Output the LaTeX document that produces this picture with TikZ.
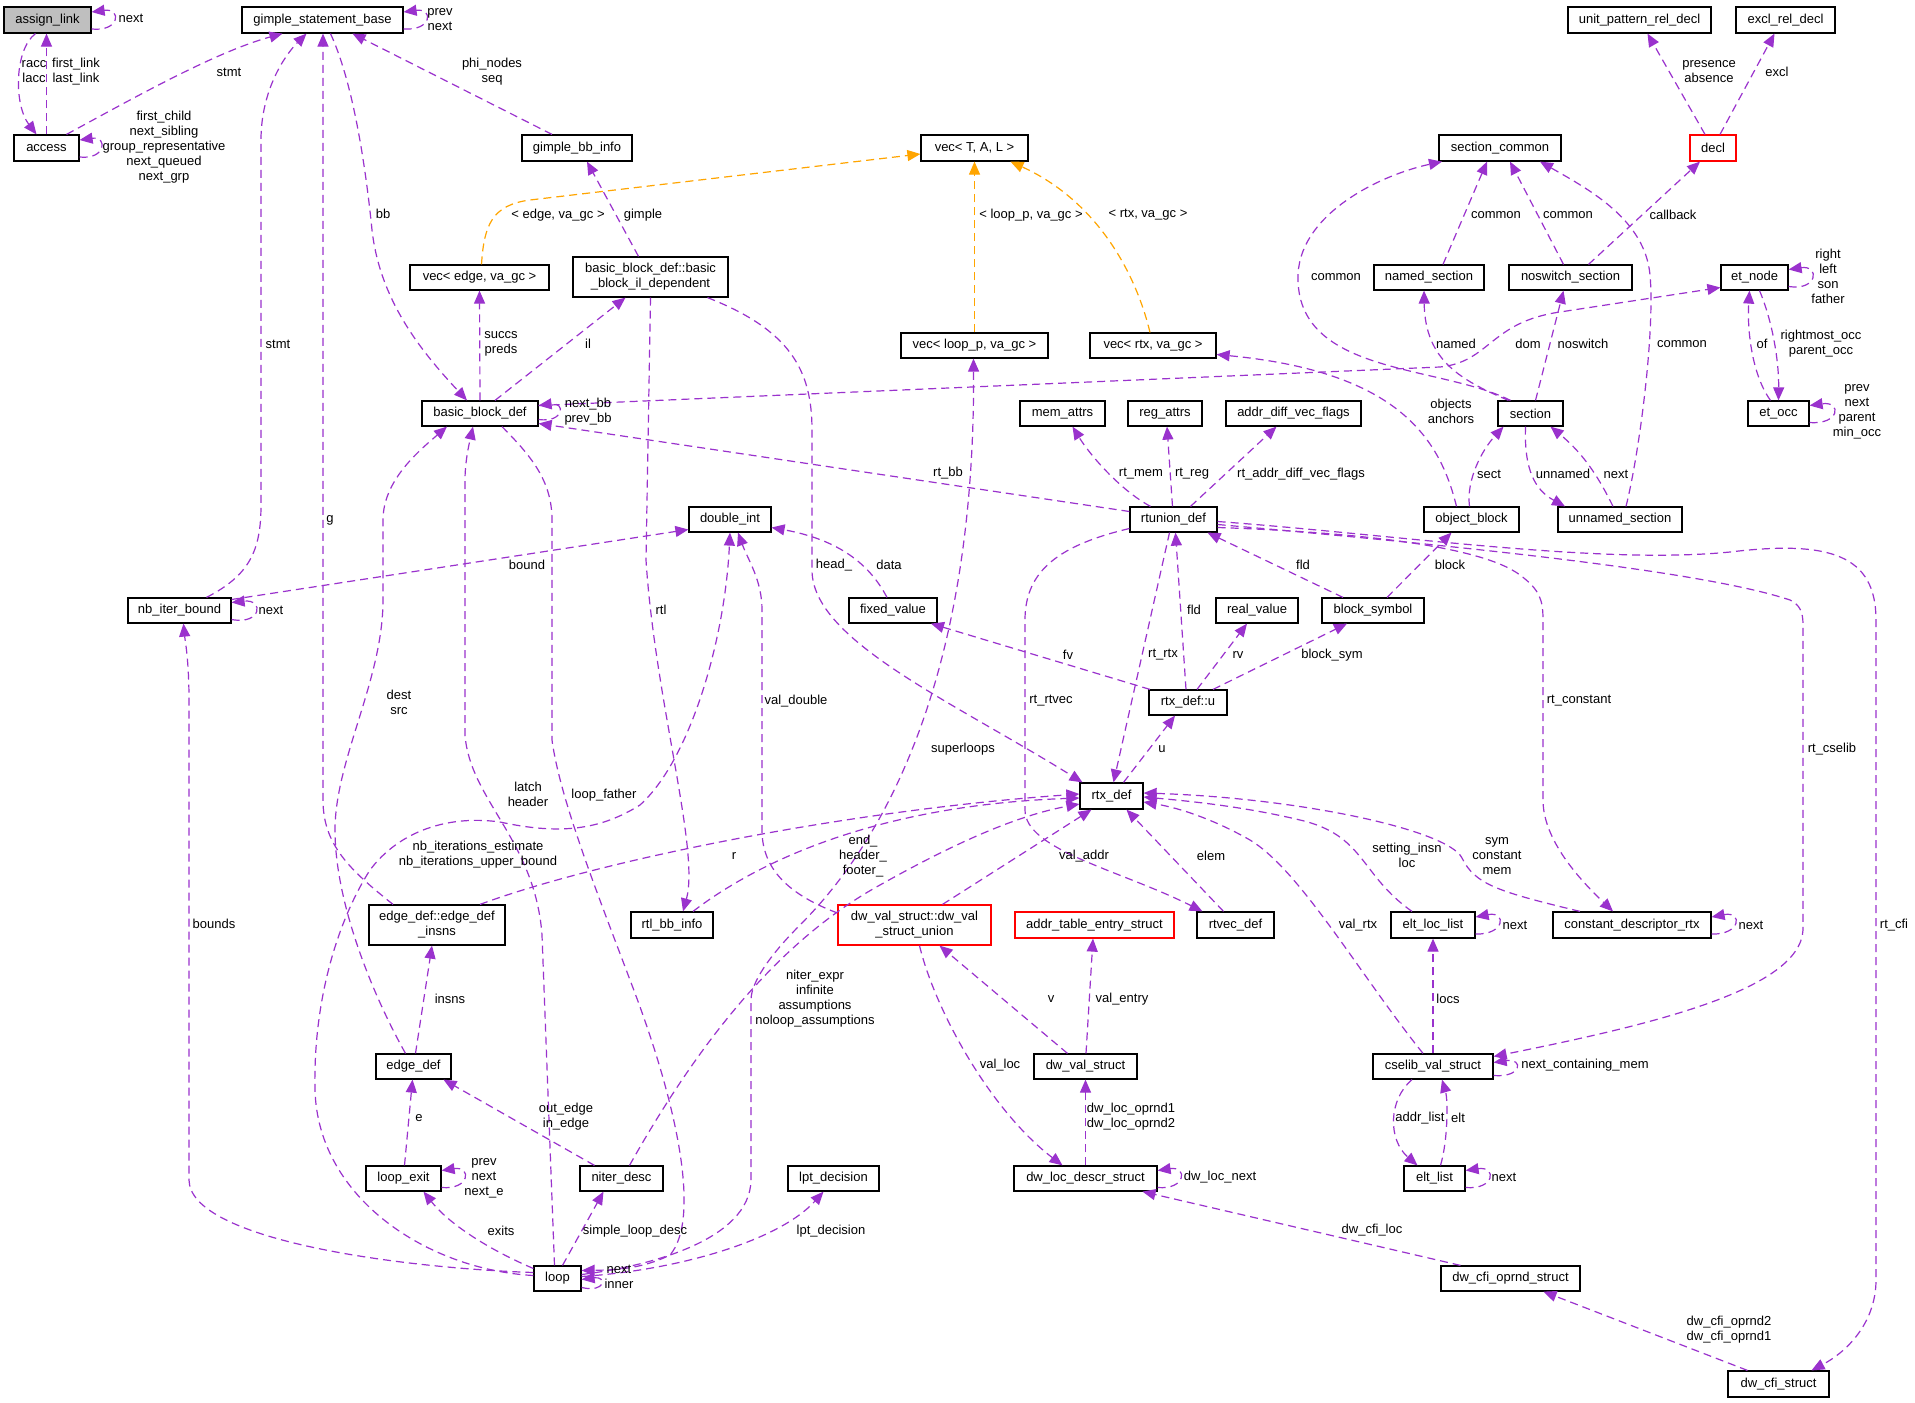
\documentclass[tikz,border=0pt]{standalone}
\usepackage{fontspec}
\setmainfont{Liberation Sans}
\usetikzlibrary{arrows.meta,calc}
\definecolor{edgepurple}{HTML}{9A32CD}
\definecolor{edgeorange}{HTML}{FFA500}
\definecolor{boxgray}{HTML}{BFBFBF}
\begin{document}
\begin{tikzpicture}[x=1pt,y=-1pt,
  cls/.style={draw=black,line width=1.2pt,inner sep=0pt,minimum height=26pt,font=\fontsize{13}{15}\selectfont,anchor=center},
  cls2/.style={cls,minimum height=40pt,align=center},
  pe/.style={draw=edgepurple,line width=1.2pt,dash pattern=on 8pt off 5pt,-{Triangle[length=13pt,width=11pt]}},
  oe/.style={pe,draw=edgeorange},
  lbl/.style={font=\fontsize{13}{15}\selectfont,inner sep=0pt,align=center}]
\fill[white] (0,0) rectangle (1915,1403);
\useasboundingbox (0,0) rectangle (1915,1403);
% ---------- nodes ----------
\node[cls,fill=boxgray,minimum width=87pt] (al) at (47.5,20) {assign\_link};
\node[cls,minimum width=161pt] (gsb) at (322.5,20) {gimple\_statement\_base};
\node[cls,minimum width=65pt] (acc) at (46.5,148) {access};
\node[cls,minimum width=110pt] (gbb) at (577,148) {gimple\_bb\_info};
\node[cls,minimum width=107pt] (vtal) at (974.5,148) {vec< T, A, L >};
\node[cls,minimum width=122pt] (sc) at (1500,148) {section\_common};
\node[cls,draw=red,minimum width=46pt] (decl) at (1713,148) {decl};
\node[cls,minimum width=143pt] (uprd) at (1639.5,20) {unit\_pattern\_rel\_decl};
\node[cls,minimum width=99pt] (erd) at (1785.5,20) {excl\_rel\_decl};
\node[cls,minimum width=139pt,minimum height=25pt] (vedge) at (479.5,277.5) {vec< edge, va\_gc >};
\node[cls2,minimum width=155pt] (bbil) at (650.5,277) {basic\_block\_def::basic\\\_block\_il\_dependent};
\node[cls,minimum width=147pt,minimum height=25pt] (vloop) at (974.5,345.5) {vec< loop\_p, va\_gc >};
\node[cls,minimum width=126pt,minimum height=25pt] (vrtx) at (1153,345.5) {vec< rtx, va\_gc >};
\node[cls,minimum width=110pt,minimum height=25pt] (nsec) at (1429,277.5) {named\_section};
\node[cls,minimum width=123pt,minimum height=25pt] (nssec) at (1570.5,277.5) {noswitch\_section};
\node[cls,minimum width=67pt,minimum height=25pt] (etn) at (1754.5,277.5) {et\_node};
\node[cls,minimum width=116pt,minimum height=25pt] (bbd) at (480,413.5) {basic\_block\_def};
\node[cls,minimum width=85pt,minimum height=25pt] (mem) at (1062.5,413.5) {mem\_attrs};
\node[cls,minimum width=74pt,minimum height=25pt] (reg) at (1165,413.5) {reg\_attrs};
\node[cls,minimum width=135pt,minimum height=25pt] (advf) at (1293.5,413.5) {addr\_diff\_vec\_flags};
\node[cls,minimum width=65pt,minimum height=25pt] (sec) at (1530.5,413.5) {section};
\node[cls,minimum width=61pt,minimum height=25pt] (eto) at (1778.5,413.5) {et\_occ};
\node[cls,minimum width=82pt,minimum height=25pt] (dint) at (730,519.5) {double\_int};
\node[cls,minimum width=87pt,minimum height=25pt] (rtu) at (1173.5,519.5) {rtunion\_def};
\node[cls,minimum width=95pt,minimum height=25pt] (ob) at (1471.5,519.5) {object\_block};
\node[cls,minimum width=124pt,minimum height=25pt] (usec) at (1620,519.5) {unnamed\_section};
\node[cls,minimum width=103pt,minimum height=25pt] (nib) at (179.5,610.5) {nb\_iter\_bound};
\node[cls,minimum width=88pt,minimum height=25pt] (fv) at (893,610.5) {fixed\_value};
\node[cls,minimum width=82pt,minimum height=25pt] (rv) at (1257,610.5) {real\_value};
\node[cls,minimum width=102pt,minimum height=25pt] (bs) at (1373,610.5) {block\_symbol};
\node[cls,minimum width=78pt,minimum height=25pt] (rtxu) at (1188,702.5) {rtx\_def::u};
\node[cls,minimum width=63pt] (rtx) at (1111.5,796) {rtx\_def};
\node[cls2,minimum width=136pt] (edi) at (437,925) {edge\_def::edge\_def\\\_insns};
\node[cls,minimum width=82pt] (rtlbb) at (672,925) {rtl\_bb\_info};
\node[cls2,draw=red,minimum width=153pt] (dwvsu) at (914.5,925) {dw\_val\_struct::dw\_val\\\_struct\_union};
\node[cls,draw=red,minimum width=159pt] (ates) at (1094.5,925) {addr\_table\_entry\_struct};
\node[cls,minimum width=77pt] (rtvec) at (1235.5,925) {rtvec\_def};
\node[cls,minimum width=84pt] (ell) at (1433,925) {elt\_loc\_list};
\node[cls,minimum width=158pt] (cdr) at (1632,925) {constant\_descriptor\_rtx};
\node[cls,minimum width=75pt,minimum height=25pt] (ed) at (413.5,1066.5) {edge\_def};
\node[cls,minimum width=103pt,minimum height=25pt] (dvs) at (1085.5,1066.5) {dw\_val\_struct};
\node[cls,minimum width=120pt,minimum height=25pt] (cvs) at (1433,1066.5) {cselib\_val\_struct};
\node[cls,minimum width=75pt,minimum height=25pt] (lexit) at (403.5,1178.5) {loop\_exit};
\node[cls,minimum width=83pt,minimum height=25pt] (nd) at (621.5,1178.5) {niter\_desc};
\node[cls,minimum width=91pt,minimum height=25pt] (lpt) at (833.5,1178.5) {lpt\_decision};
\node[cls,minimum width=143pt,minimum height=25pt] (dlds) at (1085.5,1178.5) {dw\_loc\_descr\_struct};
\node[cls,minimum width=61pt,minimum height=25pt] (el) at (1434.5,1178.5) {elt\_list};
\node[cls,minimum width=47pt,minimum height=25pt] (loop) at (557.5,1278.5) {loop};
\node[cls,minimum width=139pt,minimum height=25pt] (dcos) at (1510.5,1278.5) {dw\_cfi\_oprnd\_struct};
\node[cls,minimum width=101pt] (dcs) at (1778.5,1384) {dw\_cfi\_struct};
% ---------- edges ----------
\draw[pe] ($(al.east)+(0,9)$) .. controls (120,32) and (122,8) .. ($(al.east)+(0,-8)$);
\draw[pe] ($(al.south)+(-12,0)$) .. controls (14,50) and (14,105) .. ($(acc.north)+(-10,0)$);
\draw[pe] (acc.north) -- ($(al.south)+(-1,0)$);
\draw[pe] ($(acc.north)+(20,0)$) .. controls (130,100) and (215,52) .. ($(gsb.south)+(-40,0)$);
\draw[pe] ($(acc.east)+(0,9)$) .. controls (106,160) and (108,136) .. ($(acc.east)+(0,-8)$);
\draw[pe] ($(gsb.east)+(0,9)$) .. controls (432,31) and (434,8) .. ($(gsb.east)+(0,-8)$);
\draw[pe] ($(gbb.north)+(-25,0)$) -- ($(gsb.south)+(30,0)$);
\draw[pe] ($(nib.north)+(27,0)$) .. controls (250,575) and (261,550) .. (261,505) -- (261,140) .. controls (261,90) and (285,55) .. ($(gsb.south)+(-16,0)$);
\draw[pe] ($(edi.north)+(-44,0)$) .. controls (350,870) and (323,845) .. (323,800) -- ($(gsb.south)+(0.5,0)$);
\draw[pe] ($(gsb.south)+(8,0)$) .. controls (352,80) and (365,160) .. (372,230) .. controls (380,300) and (420,350) .. ($(bbd.north)+(-13,0)$);
\draw[pe] (bbd.north) -- (vedge.south);
\draw[pe] ($(bbd.north)+(15,0)$) -- ($(bbil.south)+(-25,0)$);
\draw[pe] ($(bbil.north)+(-12,0)$) -- ($(gbb.south)+(10,0)$);
\draw[oe] ($(vedge.north)+(2,0)$) .. controls (484,225) and (492,205) .. (530,200) -- ($(vtal.west)+(0,6)$);
\draw[oe] (vloop.north) -- (vtal.south);
\draw[oe] ($(vrtx.north)+(-3,0)$) .. controls (1135,270) and (1095,200) .. ($(vtal.south)+(36,0)$);
\draw[pe] ($(bbd.east)+(0,6)$) .. controls (564,423) and (566,402) .. ($(bbd.east)+(0,-8)$);
\draw[pe] ($(rtu.west)+(0,-8)$) -- ($(bbd.east)+(0,10)$);
\draw[pe] ($(bbd.east)+(0,-8)$) -- (1440,367) .. controls (1490,362) and (1490,322) .. (1560,312) -- ($(etn.west)+(0,10)$);
\draw[pe] ($(sec.north)+(-20,0)$) .. controls (1440,365) and (1300,375) .. (1298,280) .. controls (1296,215) and (1380,175) .. ($(sc.south)+(-58,0)$);
\draw[pe] ($(nsec.north)+(14,0)$) -- ($(sc.south)+(-13,0)$);
\draw[pe] ($(nssec.north)+(-7,0)$) -- ($(sc.south)+(10,0)$);
\draw[pe] ($(usec.north)+(6,0)$) .. controls (1640,450) and (1655,330) .. (1650,275) .. controls (1645,220) and (1590,190) .. ($(sc.south)+(40,0)$);
\draw[pe] ($(nssec.north)+(18,0)$) -- ($(decl.south)+(-13,0)$);
\draw[pe] ($(decl.north)+(-8,0)$) -- ($(uprd.south)+(8,0)$);
\draw[pe] ($(decl.north)+(7,0)$) -- ($(erd.south)+(-11,0)$);
\draw[pe] ($(etn.east)+(0,9)$) .. controls (1818,291) and (1820,265) .. ($(etn.east)+(0,-8)$);
\draw[pe] ($(eto.north)+(-8,0)$) .. controls (1752,375) and (1747,330) .. ($(etn.south)+(-5,0)$);
\draw[pe] ($(etn.south)+(5,0)$) .. controls (1772,320) and (1779,360) .. (eto.north);
\draw[pe] ($(eto.east)+(0,9)$) .. controls (1840,425) and (1842,401) .. ($(eto.east)+(0,-8)$);
\draw[pe] ($(sec.north)+(-22,0)$) .. controls (1460,380) and (1425,360) .. ($(nsec.south)+(-5,0)$);
\draw[pe] ($(sec.north)+(5,0)$) -- ($(nssec.south)+(-7,0)$);
\draw[pe] ($(ob.north)+(-2,0)$) .. controls (1466,480) and (1482,450) .. ($(sec.south)+(-27,0)$);
\draw[pe] ($(sec.south)+(-5,0)$) .. controls (1524,470) and (1535,490) .. ($(usec.north)+(-55,0)$);
\draw[pe] ($(usec.north)+(-7,0)$) .. controls (1600,480) and (1585,455) .. ($(sec.south)+(20,0)$);
\draw[pe] ($(ob.north)+(-15,0)$) .. controls (1440,440) and (1400,372) .. ($(vrtx.east)+(0,9)$);
\draw[pe] ($(rtu.north)+(-23,0)$) .. controls (1120,490) and (1090,455) .. ($(mem.south)+(10,0)$);
\draw[pe] ($(rtu.north)+(-1,0)$) -- ($(reg.south)+(2,0)$);
\draw[pe] ($(rtu.north)+(17,0)$) -- ($(advf.south)+(-17,0)$);
\draw[pe] ($(bs.north)+(14,0)$) -- ($(ob.south)+(-20,0)$);
\draw[pe] ($(bs.north)+(-30,0)$) -- ($(rtu.south)+(34,0)$);
\draw[pe] ($(rtxu.north)+(-2,0)$) -- ($(rtu.south)+(2,0)$);
\draw[pe] ($(rtu.south)+(-4,0)$) -- ($(rtx.north)+(2,0)$);
\draw[pe] ($(rtxu.north)+(9,0)$) -- ($(rv.south)+(-10,0)$);
\draw[pe] ($(rtxu.north)+(25,0)$) -- ($(bs.south)+(-26,0)$);
\draw[pe] ($(rtxu.north)+(-38,0)$) -- ($(fv.south)+(38,0)$);
\draw[pe] ($(rtx.north)+(12,0)$) -- ($(rtxu.south)+(-13,0)$);
\draw[pe] ($(rtu.west)+(0,9)$) .. controls (1060,545) and (1025,570) .. (1025,620) -- (1025,810) .. controls (1025,850) and (1120,870) .. ($(rtvec.north)+(-33,0)$);
\draw[pe] ($(bbil.south)+(57,0)$) .. controls (790,330) and (812,370) .. (812,430) -- (812,570) .. controls (812,640) and (950,700) .. ($(rtx.north)+(-29,0)$);
\draw[pe] (bbil.south) -- (646,560) .. controls (655,700) and (700,850) .. ($(rtlbb.north)+(11,0)$);
\draw[pe] ($(loop.east)+(0,-4)$) .. controls (650,1266) and (750,1240) .. (751,1180) -- (751,1000) .. controls (751,980) and (775,950) .. (800,925) .. controls (905,820) and (975,640) .. ($(vloop.south)+(-1,0)$);
\draw[pe] ($(rtlbb.north)+(21,0)$) .. controls (760,860) and (880,805) .. ($(rtx.west)+(0,2)$);
\draw[pe] ($(edi.north)+(43,0)$) .. controls (600,860) and (850,810) .. ($(rtx.west)+(0,-2)$);
\draw[pe] ($(nd.north)+(8,0)$) .. controls (700,1040) and (780,940) .. (880,885) .. controls (960,840) and (1020,815) .. ($(rtx.west)+(0,8)$);
\draw[pe] ($(dwvsu.north)+(28,0)$) -- ($(rtx.south)+(-20,0)$);
\draw[pe] ($(dwvsu.west)+(0,-12)$) .. controls (790,895) and (762,870) .. (762,830) -- (762,610) .. controls (762,580) and (748,560) .. ($(dint.south)+(8,0)$);
\draw[pe] ($(loop.west)+(0,-3)$) .. controls (430,1270) and (318,1200) .. (315,1090) .. controls (313,1000) and (338,920) .. (370,870) .. controls (400,830) and (450,815) .. (500,822) .. controls (560,835) and (600,830) .. (640,805) .. controls (690,760) and (725,640) .. (dint.south);
\draw[pe] ($(ed.north)+(-8,0)$) .. controls (370,990) and (335,900) .. (335,830) .. controls (335,760) and (383,680) .. (383,600) -- (383,520) .. controls (383,480) and (420,450) .. ($(bbd.south)+(-33,0)$);
\draw[pe] ($(loop.north)+(-3,0)$) -- (542,935) .. controls (535,840) and (470,800) .. (465,735) -- (465,480) .. controls (465,460) and (470,440) .. ($(bbd.south)+(-7,0)$);
\draw[pe] ($(bbd.south)+(22,0)$) .. controls (530,455) and (552,480) .. (552,520) -- (552,740) .. controls (560,800) and (600,900) .. (630,980) .. controls (680,1110) and (700,1220) .. (670,1255) .. controls (640,1270) and (610,1270) .. ($(loop.east)+(0,-8)$);
\draw[pe] ($(loop.east)+(0,9)$) .. controls (606,1293) and (607,1276) .. ($(loop.east)+(0,1)$);
\draw[pe] ($(loop.east)+(0,-2)$) .. controls (680,1270) and (780,1240) .. ($(lpt.south)+(-10,0)$);
\draw[pe] ($(loop.north)+(5,0)$) -- ($(nd.south)+(-18,0)$);
\draw[pe] ($(loop.west)+(0,-10)$) .. controls (490,1250) and (450,1225) .. ($(lexit.south)+(20,0)$);
\draw[pe] ($(lexit.east)+(0,9)$) .. controls (470,1190) and (472,1166) .. ($(lexit.east)+(0,-8)$);
\draw[pe] ($(lexit.north)+(1,0)$) -- ($(ed.south)+(-1,0)$);
\draw[pe] ($(nd.north)+(-27,0)$) -- ($(ed.south)+(30,0)$);
\draw[pe] ($(ed.north)+(2,0)$) -- ($(edi.south)+(-5,0)$);
\draw[pe] ($(nib.east)+(0,9)$) .. controls (262,625) and (264,599) .. ($(nib.east)+(0,-8)$);
\draw[pe] ($(nib.east)+(0,-11)$) -- ($(dint.west)+(0,10)$);
\draw[pe] ($(loop.west)+(0,-6)$) .. controls (400,1268) and (190,1240) .. (189,1180) -- (189,700) .. controls (189,660) and (185,640) .. ($(nib.south)+(4,0)$);
\draw[pe] ($(dvs.north)+(-18,0)$) -- ($(dwvsu.south)+(25,0)$);
\draw[pe] ($(dvs.north)+(0.5,0)$) -- ($(ates.south)+(-1.5,0)$);
\draw[pe] ($(dwvsu.south)+(5,0)$) .. controls (935,1010) and (990,1110) .. ($(dlds.north)+(-23,0)$);
\draw[pe] (dlds.north) -- (dvs.south);
\draw[pe] ($(dlds.east)+(0,9)$) .. controls (1186,1190) and (1188,1166) .. ($(dlds.east)+(0,-8)$);
\draw[pe] ($(dcos.north)+(-50,0)$) -- ($(dlds.south)+(57,0)$);
\draw[pe] ($(dcs.north)+(-31,0)$) -- ($(dcos.south)+(33,0)$);
\draw[pe] ($(rtu.east)+(0,2)$) .. controls (1400,535) and (1600,565) .. (1730,552) .. controls (1830,540) and (1876,555) .. (1876,620) -- (1876,1280) .. controls (1876,1320) and (1850,1350) .. ($(dcs.north)+(33,0)$);
\draw[pe] ($(rtu.east)+(0,5)$) .. controls (1450,545) and (1700,570) .. (1790,600) .. controls (1800,605) and (1803,612) .. (1803,625) -- (1803,930) .. controls (1800,990) and (1650,1025) .. ($(cvs.east)+(0,-10)$);
\draw[pe] ($(rtu.east)+(0,8)$) .. controls (1350,532) and (1480,545) .. (1520,575) .. controls (1540,590) and (1543,600) .. (1543,620) -- (1543,800) .. controls (1543,840) and (1580,880) .. ($(cdr.north)+(-19,0)$);
\draw[pe] ($(ell.north)+(-21,0)$) .. controls (1360,875) and (1365,835) .. (1300,820) .. controls (1250,808) and (1200,802) .. ($(rtx.east)+(0,1)$);
\draw[pe] ($(cdr.north)+(-52,0)$) .. controls (1500,892) and (1475,885) .. (1462,858) .. controls (1448,830) and (1300,798) .. ($(rtx.east)+(0,-3)$);
\draw[pe] ($(cvs.north)+(-10,0)$) .. controls (1360,975) and (1300,870) .. (1250,840) .. controls (1215,820) and (1180,808) .. ($(rtx.east)+(0,6)$);
\draw[pe] ($(rtvec.north)+(-12,0)$) -- ($(rtx.south)+(15,0)$);
\draw[pe] ($(ell.east)+(0,9)$) .. controls (1505,935) and (1507,911) .. ($(ell.east)+(0,-8)$);
\draw[pe] ($(cdr.east)+(0,9)$) .. controls (1741,935) and (1743,911) .. ($(cdr.east)+(0,-8)$);
\draw[pe] (cvs.north) -- (ell.south);
\draw[pe] ($(cvs.east)+(0,9)$) .. controls (1522,1078) and (1524,1058) .. ($(cvs.east)+(0,-4)$);
\draw[pe] ($(cvs.south)+(-21,0)$) .. controls (1388,1100) and (1388,1140) .. ($(el.north)+(-17,0)$);
\draw[pe] ($(el.north)+(6,0)$) .. controls (1448,1140) and (1448,1100) .. ($(cvs.south)+(9,0)$);
\draw[pe] ($(el.east)+(0,9)$) .. controls (1495,1190) and (1497,1166) .. ($(el.east)+(0,-8)$);
\draw[pe] ($(fv.north)+(-6,0)$) .. controls (870,565) and (840,540) .. ($(dint.east)+(0,8)$);
% ---------- labels ----------
\node[lbl] (l1) at (131,18) {next};
\node[lbl] (l2) at (34,72) {racc\\lacc};
\node[lbl] (l3) at (76,72) {first\_link\\last\_link};
\node[lbl] (l4) at (229,72) {stmt};
\node[lbl] (l5) at (164,147) {first\_child\\next\_sibling\\group\_representative\\next\_queued\\next\_grp};
\node[lbl] (l6) at (440,19.5) {prev\\next};
\node[lbl] (l7) at (492,72) {phi\_nodes\\seq};
\node[lbl] (l8) at (278,344) {stmt};
\node[lbl] (l9) at (383,214) {bb};
\node[lbl] (l10) at (558,215) {< edge, va\_gc >};
\node[lbl] (l11) at (643,215) {gimple};
\node[lbl] (l12) at (501,344) {succs\\preds};
\node[lbl] (l13) at (588,344) {il};
\node[lbl] (l14) at (588,412) {next\_bb\\prev\_bb};
\node[lbl] (l15) at (1031,215) {< loop\_p, va\_gc >};
\node[lbl] (l16) at (1148,215) {< rtx, va\_gc >};
\node[lbl] (l17) at (1336,277) {common};
\node[lbl] (l18) at (1709,72) {presence\\absence};
\node[lbl] (l19) at (1777,72) {excl};
\node[lbl] (l20) at (1496,215) {common};
\node[lbl] (l21) at (1568,215) {common};
\node[lbl] (l22) at (1673,215) {callback};
\node[lbl] (l23) at (1828,276) {right\\left\\son\\father};
\node[lbl] (l24) at (1456,344) {named};
\node[lbl] (l25) at (1528,344) {dom};
\node[lbl] (l26) at (1583,344) {noswitch};
\node[lbl] (l27) at (1682,344) {common};
\node[lbl] (l28) at (1762,344) {of};
\node[lbl] (l29) at (1821,344) {rightmost\_occ\\parent\_occ};
\node[lbl] (l30) at (1451,411) {objects\\anchors};
\node[lbl] (l31) at (1857,412) {prev\\next\\parent\\min\_occ};
\node[lbl] (l32) at (1141,474) {rt\_mem};
\node[lbl] (l33) at (1192,474) {rt\_reg};
\node[lbl] (l34) at (1301,474) {rt\_addr\_diff\_vec\_flags};
\node[lbl] (l35) at (948,473) {rt\_bb};
\node[lbl] (l36) at (1489,474) {sect};
\node[lbl] (l37) at (1563,474) {unnamed};
\node[lbl] (l38) at (1616,474) {next};
\node[lbl] (l39) at (271,610) {next};
\node[lbl] (l40) at (330,520) {g};
\node[lbl] (l41) at (399,702) {dest\\src};
\node[lbl] (l42) at (214,924) {bounds};
\node[lbl] (l43) at (478,855) {nb\_iterations\_estimate\\nb\_iterations\_upper\_bound};
\node[lbl] (l44) at (527,565) {bound};
\node[lbl] (l45) at (661,610) {rtl};
\node[lbl] (l46) at (834,565) {head\_};
\node[lbl] (l47) at (889,565) {data};
\node[lbl] (l48) at (796,701) {val\_double};
\node[lbl] (l49) at (963,749) {superloops};
\node[lbl] (l50) at (528,794) {latch\\header};
\node[lbl] (l51) at (604,795) {loop\_father};
\node[lbl] (l52) at (734,856) {r};
\node[lbl] (l53) at (863,856) {end\_\\header\_\\footer\_};
\node[lbl] (l54) at (1303,565) {fld};
\node[lbl] (l55) at (1194,610) {fld};
\node[lbl] (l56) at (1068,655) {fv};
\node[lbl] (l57) at (1163,655) {rt\_rtx};
\node[lbl] (l58) at (1238,655) {rv};
\node[lbl] (l59) at (1332,655) {block\_sym};
\node[lbl] (l60) at (1051,701) {rt\_rtvec};
\node[lbl] (l61) at (1162,749) {u};
\node[lbl] (l62) at (1084,856) {val\_addr};
\node[lbl] (l63) at (1211,856) {elem};
\node[lbl] (l64) at (1407,855) {setting\_insn\\loc};
\node[lbl] (l65) at (1358,925) {val\_rtx};
\node[lbl] (l66) at (1450,565) {block};
\node[lbl] (l67) at (1579,701) {rt\_constant};
\node[lbl] (l68) at (1832,749) {rt\_cselib};
\node[lbl] (l69) at (1497,856) {sym\\constant\\mem};
\node[lbl] (l70) at (1515,925) {next};
\node[lbl] (l71) at (1751,925) {next};
\node[lbl] (l72) at (1894,925) {rt\_cfi};
\node[lbl] (l73) at (450,999) {insns};
\node[lbl] (l74) at (419,1118) {e};
\node[lbl] (l75) at (484,1178) {prev\\next\\next\_e};
\node[lbl] (l76) at (566,1117) {out\_edge\\in\_edge};
\node[lbl] (l77) at (815,999) {niter\_expr\\infinite\\assumptions\\noloop\_assumptions};
\node[lbl] (l78) at (501,1231) {exits};
\node[lbl] (l79) at (635,1231) {simple\_loop\_desc};
\node[lbl] (l80) at (831,1231) {lpt\_decision};
\node[lbl] (l81) at (619,1277) {next\\inner};
\node[lbl] (l82) at (1051,999) {v};
\node[lbl] (l83) at (1122,999) {val\_entry};
\node[lbl] (l84) at (1000,1065) {val\_loc};
\node[lbl] (l85) at (1131,1117) {dw\_loc\_oprnd1\\dw\_loc\_oprnd2};
\node[lbl] (l86) at (1220,1177) {dw\_loc\_next};
\node[lbl] (l87) at (1372,1230) {dw\_cfi\_loc};
\node[lbl] (l88) at (1420,1118) {addr\_list};
\node[lbl] (l89) at (1458,1118) {elt};
\node[lbl] (l90) at (1448,999) {locs};
\node[lbl] (l91) at (1585,1065) {next\_containing\_mem};
\node[lbl] (l92) at (1504,1177) {next};
\node[lbl] (l93) at (1729,1330) {dw\_cfi\_oprnd2\\dw\_cfi\_oprnd1};
\end{tikzpicture}
\end{document}
